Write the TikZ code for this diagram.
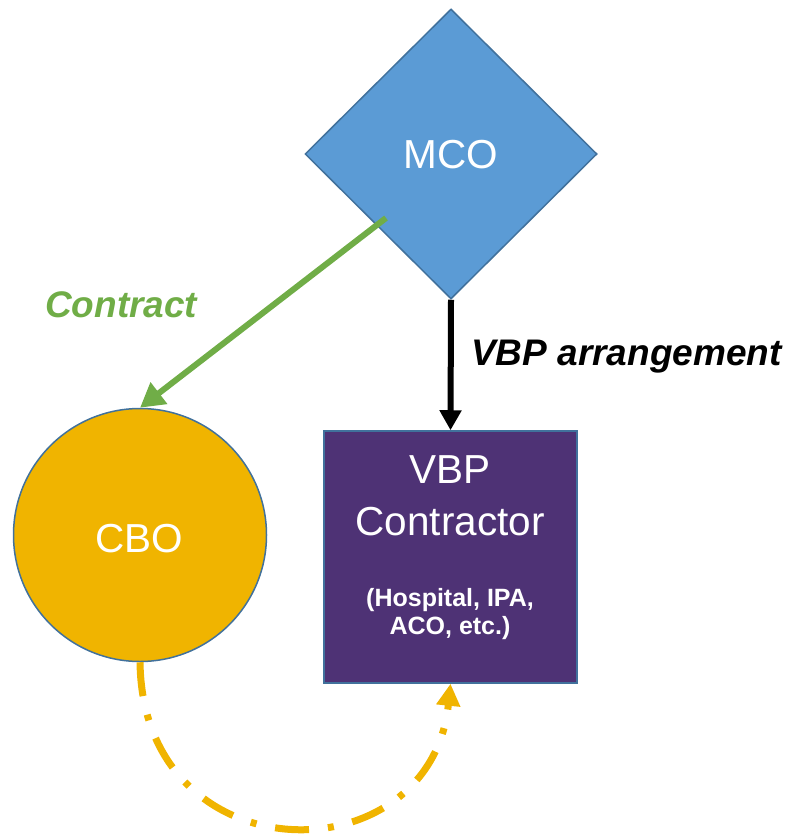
\documentclass[tikz,border=0pt]{standalone}
\usepackage{fontspec}
\setmainfont{Liberation Sans}
\usetikzlibrary{shapes.geometric,arrows.meta,calc}
\definecolor{mcoblue}{HTML}{5B9BD5}
\definecolor{outline}{HTML}{41719C}
\definecolor{cboyellow}{HTML}{F0B400}
\definecolor{vbppurple}{HTML}{4E3275}
\definecolor{contractgreen}{HTML}{70AD47}
\tikzset{
  shapeline/.style={draw=outline, line width=1.5pt},
  bigtext/.style={text=white, font=\fontsize{40.5}{48}\selectfont, inner sep=0pt, anchor=base},
  smalltext/.style={text=white, font=\bfseries\fontsize{25}{28}\selectfont, inner sep=0pt, anchor=base},
  lbl/.style={font=\bfseries\itshape\fontsize{37}{40}\selectfont, inner sep=0pt, anchor=base west},
}
\begin{document}
\begin{tikzpicture}[x=1pt,y=-1pt]
\useasboundingbox (0,0) rectangle (795,837);
\node[diamond, shapeline, fill=mcoblue, minimum width=292pt, minimum height=290pt, inner sep=0pt] (mco) at (451,154) {};
\node[circle, shapeline, fill=cboyellow, minimum size=253pt, inner sep=0pt] (cbo) at (140,535) {};
\node[rectangle, shapeline, fill=vbppurple, minimum width=253pt, minimum height=252pt, inner sep=0pt] (vbp) at (450.5,557) {};

\node[bigtext] (mcot) at (451,169) {MCO};
\node[bigtext] (cbot) at (139,552) {CBO};
\node[bigtext] (vbpt1) at (450,483) {VBP};
\node[bigtext] (vbpt2) at (450,535) {Contractor};
\node[smalltext] (vbpt3) at (450,606) {(Hospital, IPA,};
\node[smalltext] (vbpt4) at (450,634) {ACO, etc.)};

\node[lbl, text=contractgreen] (contract) at (45,317) {Contract};
\node[lbl, text=black] (arr) at (471,365) {VBP arrangement};

\draw[contractgreen, line width=6pt, -{Triangle[length=24pt,width=26pt]}]
  ($(mco.center)+(-65,64)$) -- (cbo.north);
\draw[black, line width=6pt, -{Triangle[length=20pt,width=21pt]}]
  (mco.south) -- (vbp.north);
\draw[cboyellow, line width=7pt, dash pattern=on 34pt off 19pt on 6pt off 19pt,
  -{Triangle[length=22pt,width=23pt]}]
  (cbo.south) .. controls ($(cbo.south)+(3,215)$) and ($(vbp.south)+(-20,195)$) .. (vbp.south);
\end{tikzpicture}
\end{document}
